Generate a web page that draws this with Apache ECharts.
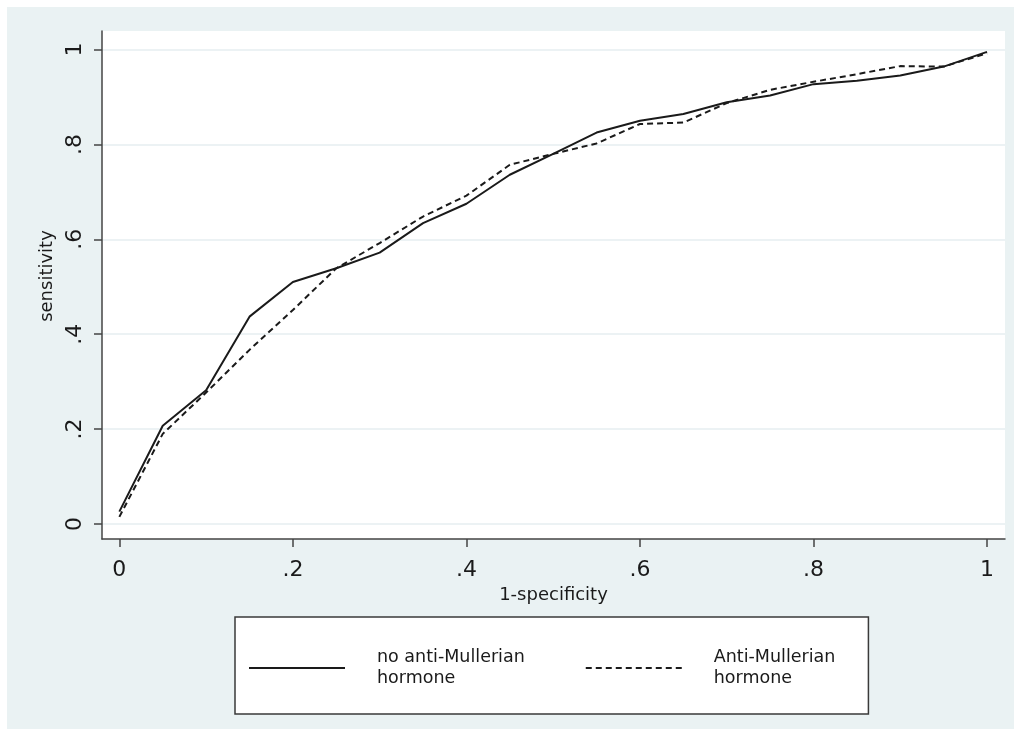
<!DOCTYPE html>
<html>
<head>
<meta charset="utf-8">
<title>ROC curves</title>
<script src="https://cdn.jsdelivr.net/npm/echarts@6/dist/echarts.min.js"></script>
<style>
  html, body { margin: 0; padding: 0; background: #fff; }
  #roc { position: absolute; left: 7px; top: 7px; width: 1007px; height: 722px; }
</style>
</head>
<body>
<div id="roc"></div>
<script>
// 1-specificity (false positive rate) grid points
const fpr = [0, 0.05, 0.1, 0.15, 0.2, 0.25, 0.3, 0.35, 0.4, 0.45, 0.5,
             0.55, 0.6, 0.65, 0.7, 0.75, 0.8, 0.85, 0.9, 0.95, 1];
// sensitivity, model without AMH
const sensNoAmh = [0.026, 0.207, 0.282, 0.437, 0.510, 0.539, 0.572, 0.634, 0.675, 0.736, 0.780,
                   0.825, 0.850, 0.864, 0.889, 0.903, 0.927, 0.934, 0.945, 0.964, 0.995];
// sensitivity, model with AMH
const sensAmh = [0.015, 0.190, 0.277, 0.367, 0.451, 0.539, 0.592, 0.648, 0.692, 0.757, 0.780,
                 0.802, 0.843, 0.846, 0.887, 0.915, 0.932, 0.948, 0.965, 0.964, 0.992];
const xTicks = [0, 0.2, 0.4, 0.6, 0.8, 1];
const yTicks = [0, 0.2, 0.4, 0.6, 0.8, 1];
const seriesNames = ['no anti-Mullerian hormone', 'Anti-Mullerian hormone'];

// stata style tick label: .2 instead of 0.2
function stataNum(v) {
  return String(v).replace(/^0\./, '.');
}

const FONT = 'DejaVu Sans';
const INK = '#1a1a1a';

var chart = echarts.init(document.getElementById('roc'));

var option = {
  backgroundColor: '#eaf2f3',
  animation: false,
  textStyle: { fontFamily: FONT },
  grid: {
    left: 95, top: 24, right: 9, bottom: 190,
    show: true, backgroundColor: '#fff', borderWidth: 0
  },
  xAxis: {
    type: 'value',
    min: -0.02, max: 1.0207,
    name: '1-specificity',
    nameLocation: 'middle',
    nameGap: 44,
    nameTextStyle: { fontSize: 18, color: INK, fontFamily: FONT },
    axisLine: { onZero: false, lineStyle: { color: '#444', width: 1.5 } },
    axisTick: { customValues: xTicks, length: 8, lineStyle: { color: '#444', width: 1.5 } },
    axisLabel: {
      customValues: xTicks, formatter: stataNum,
      fontSize: 22, color: INK, margin: 20, fontFamily: FONT
    },
    splitLine: { show: false }
  },
  yAxis: {
    type: 'value',
    min: -0.0316, max: 1.039,
    name: 'sensitivity',
    nameLocation: 'middle',
    nameGap: 45,
    // shift the rotated title a little upwards, like the original
    nameTextStyle: { fontSize: 18, color: INK, fontFamily: FONT, padding: [0, 0, 0, 18] },
    axisLine: { show: true, onZero: false, lineStyle: { color: '#444', width: 1.5 } },
    axisTick: { show: true, customValues: yTicks, length: 8, lineStyle: { color: '#444', width: 1.5 } },
    axisLabel: {
      customValues: yTicks, formatter: stataNum, rotate: 90,
      fontSize: 22, color: INK, margin: 16, fontFamily: FONT
    },
    splitLine: { show: true, lineStyle: { color: '#e6eef0', width: 1.5 } }
  },
  legend: {
    left: 228, top: 610,
    orient: 'horizontal',
    data: seriesNames,
    itemWidth: 96, itemHeight: 14, itemGap: 60,
    padding: [30, 33, 25, 13],
    backgroundColor: '#fff',
    borderColor: '#3a3a3a', borderWidth: 1.5,
    itemStyle: { opacity: 0 },
    formatter: function (name) { return name.replace(' hormone', '\nhormone'); },
    textStyle: { fontSize: 17.5, lineHeight: 21, color: INK, padding: [0, 0, 0, 27], fontFamily: FONT }
  },
  series: [
    {
      name: seriesNames[0],
      type: 'line',
      symbol: 'none',
      data: fpr.map((x, i) => [x, sensNoAmh[i]]),
      lineStyle: { color: INK, width: 2, type: 'solid' },
      itemStyle: { color: INK }
    },
    {
      name: seriesNames[1],
      type: 'line',
      symbol: 'none',
      data: fpr.map((x, i) => [x, sensAmh[i]]),
      lineStyle: { color: INK, width: 2, type: [6, 4] },
      itemStyle: { color: INK }
    }
  ]
};

chart.setOption(option);
</script>
</body>
</html>
